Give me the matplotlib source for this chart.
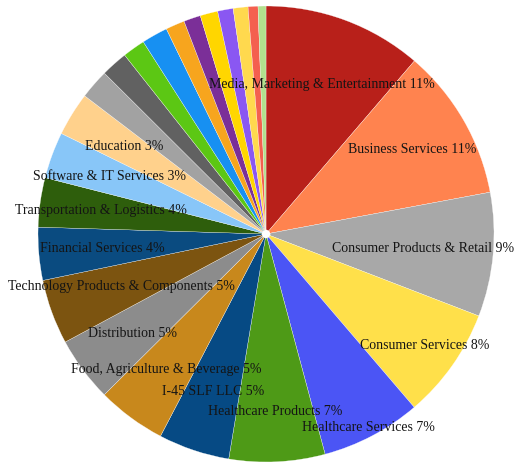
import numpy as np
import matplotlib
matplotlib.use("Agg")
import matplotlib.pyplot as plt

# Portfolio by industry, clockwise from 12 o'clock
industries = ["Media, Marketing & Entertainment", "Business Services",
              "Consumer Products & Retail", "Consumer Services",
              "Healthcare Services", "Healthcare Products", "I-45 SLF LLC",
              "Food, Agriculture & Beverage", "Distribution",
              "Technology Products & Components", "Financial Services",
              "Transportation & Logistics", "Software & IT Services",
              "Education",
              "", "", "", "", "", "", "", "", "", "", ""]
shares = [11.3, 10.8, 8.8, 7.9, 7.1, 6.8, 5.05, 4.9, 4.6, 4.6, 3.75,
          3.5, 3.3, 3.1,
          2.1, 1.9, 1.6, 1.85, 1.35, 1.2, 1.25, 1.1, 1.05, 0.7, 0.56]
pct_labels = ["11%", "11%", "9%", "8%", "7%", "7%", "5%", "5%", "5%", "5%",
              "4%", "4%", "3%", "3%"]
colors = ["#B8201A", "#FF834F", "#A8A8A8", "#FFE04A", "#4B55F5", "#4E9A17",
          "#064A84", "#C8881C", "#8C8C8C", "#7C5410", "#0A4B80", "#2E5E0C",
          "#88C6F8", "#FFD18C",
          "#A2A2A2", "#616161", "#5CC714", "#1790F2", "#F7A51E", "#7B2F98",
          "#FFD600", "#8A57F2", "#FFD94E", "#F4604F", "#B2E08E"]

# radial position of each label, as a fraction of the radius
label_dist = [0.70, 0.74, 0.69, 0.85, 0.96, 0.78, 0.73, 0.74, 0.73, 0.675,
              0.72, 0.73, 0.73, 0.73]

fig = plt.figure(figsize=(5.22, 4.62), dpi=100)
ax = fig.add_axes([0.0728, 0.0, 0.8736, 0.987])

wedges, _ = ax.pie(shares, colors=colors, startangle=90, counterclock=False,
                   radius=1.0,
                   wedgeprops=dict(width=0.982, edgecolor="white", linewidth=0.2))

for i, pct in enumerate(pct_labels):
    w = wedges[i]
    ang = np.deg2rad((w.theta1 + w.theta2) / 2)
    r = label_dist[i]
    ax.text(r * np.cos(ang), r * np.sin(ang), industries[i] + " " + pct,
            ha="center", va="center", fontsize=10,
            family="Liberation Serif", color="#141414")

ax.set_xlim(-1, 1)
ax.set_ylim(-1, 1)
ax.set_aspect("equal")
ax.axis("off")

fig.savefig("out.png", dpi=100)
